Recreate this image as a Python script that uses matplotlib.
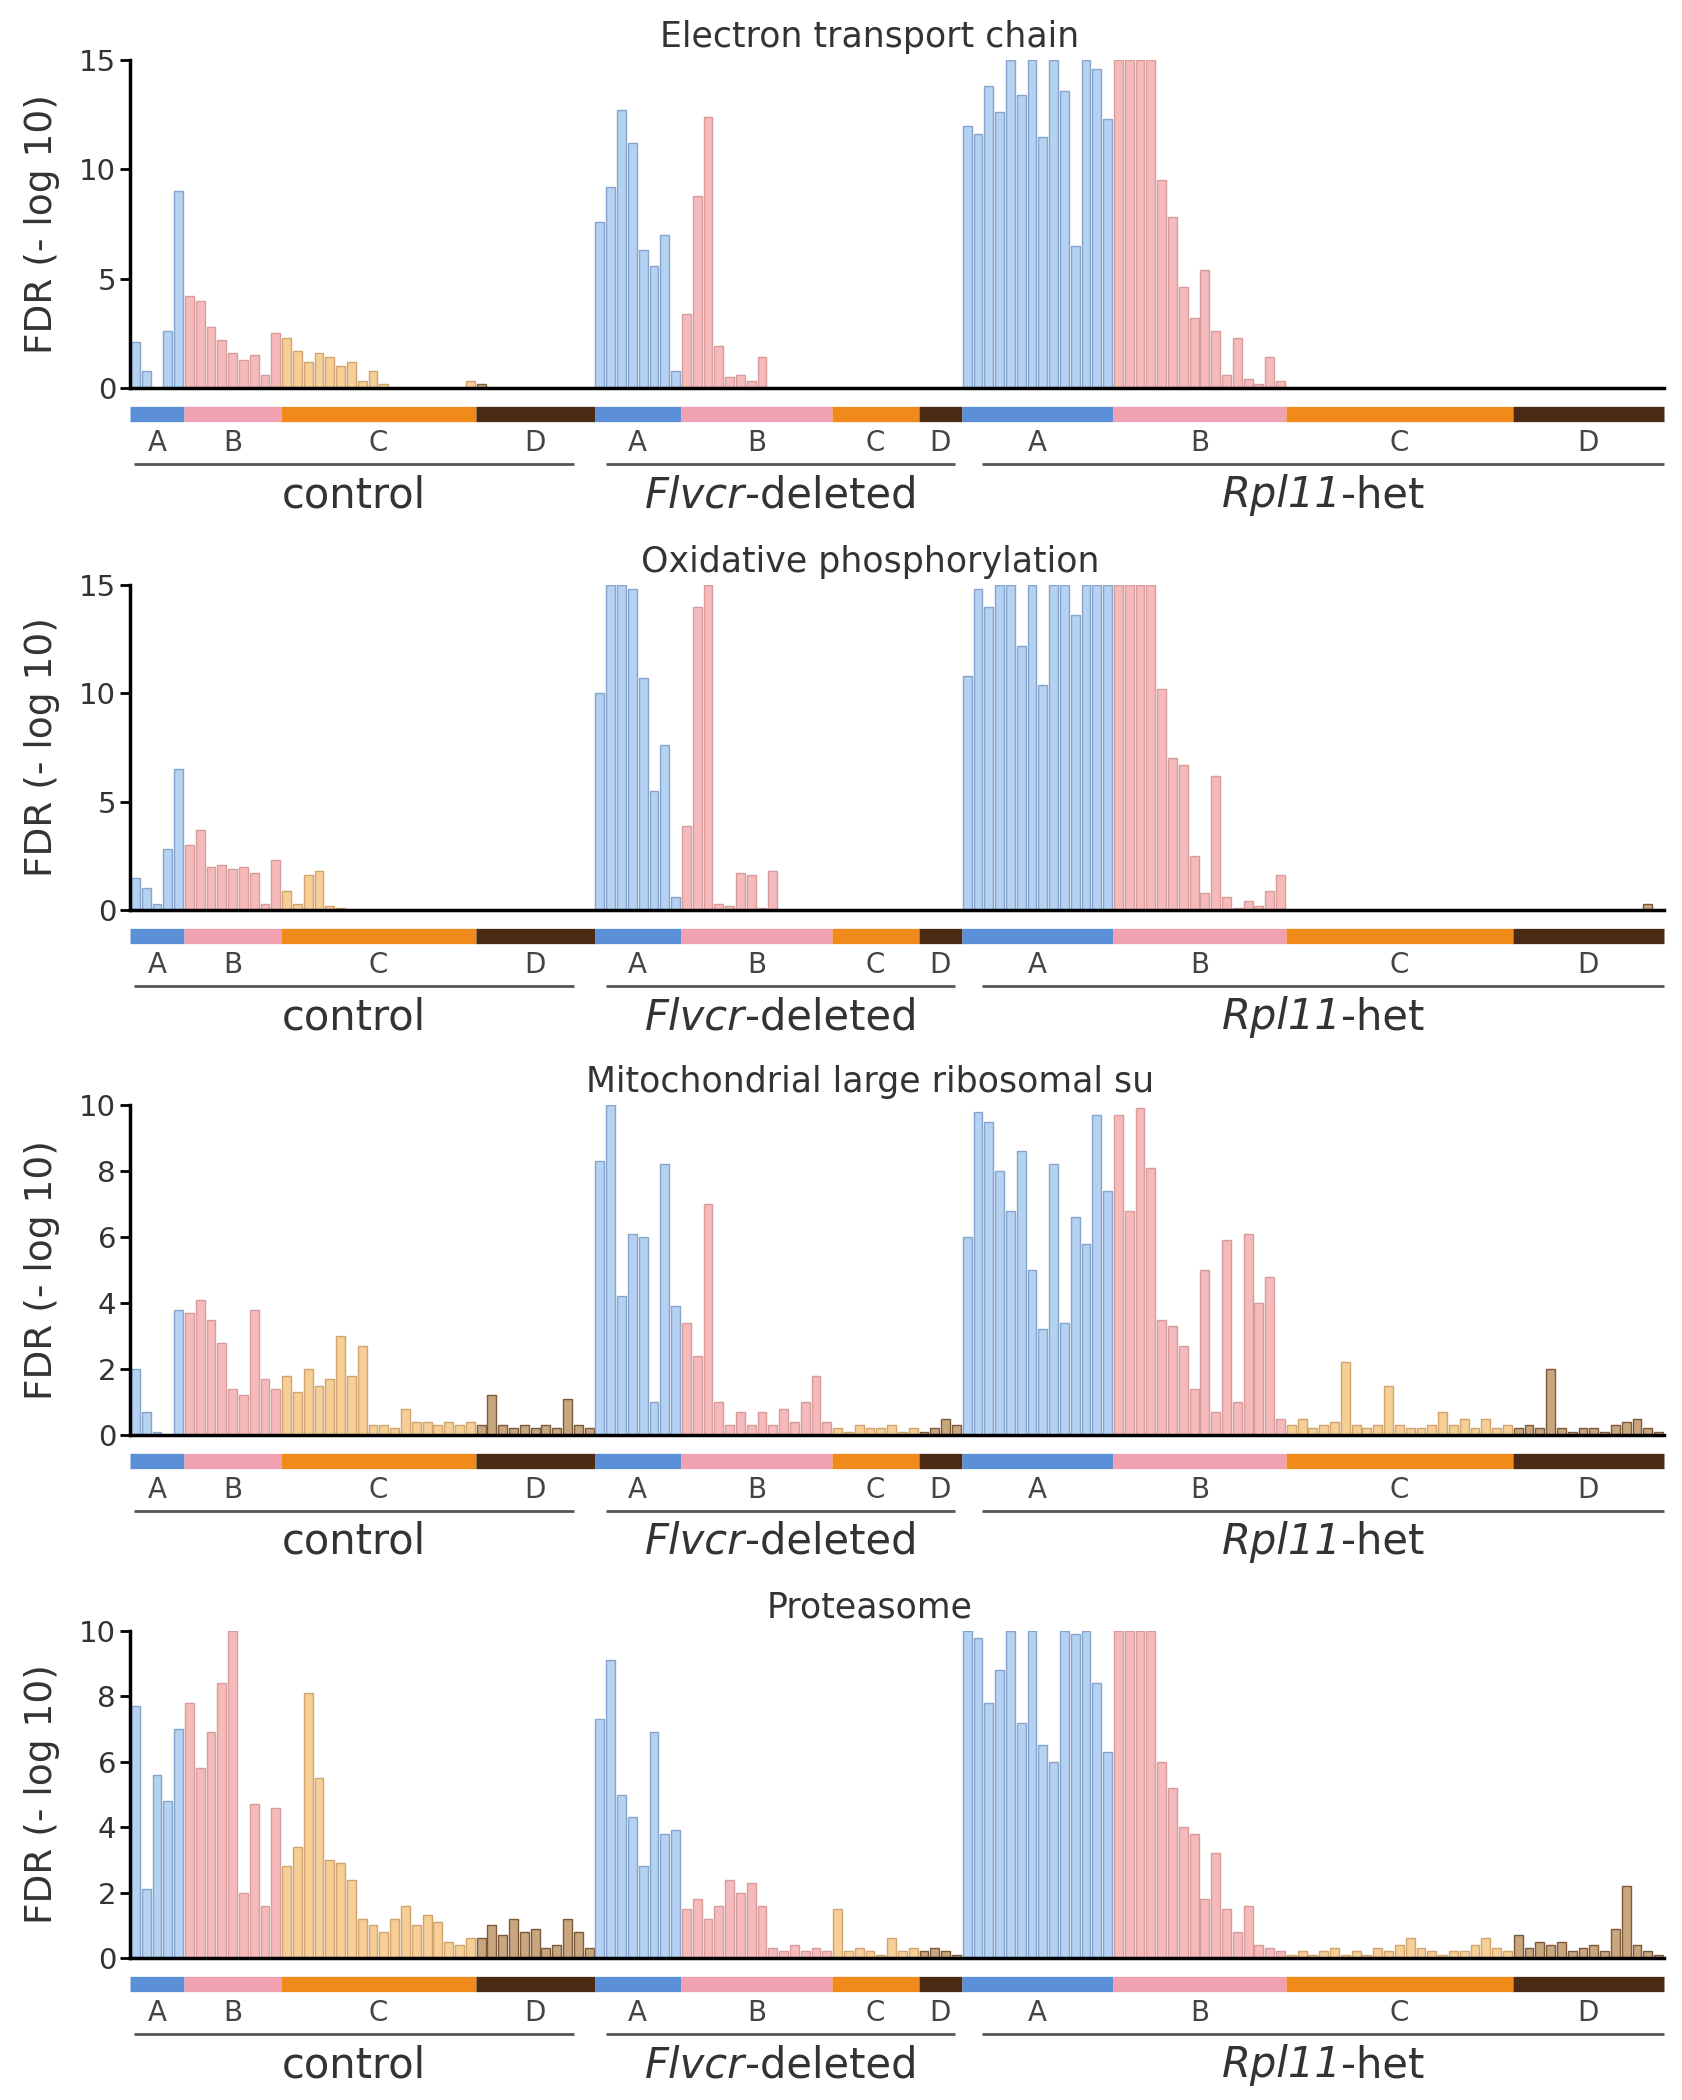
import numpy as np
import matplotlib
matplotlib.use('Agg')
import matplotlib.pyplot as plt
from matplotlib.transforms import blended_transform_factory, offset_copy

# samples per cluster (A, B, C, D) in each condition
conditions = [[('control', 'normal')],
              [('Flvcr', 'italic'), ('-deleted', 'normal')],
              [('Rpl11', 'italic'), ('-het', 'normal')]]
clusters = ['A', 'B', 'C', 'D']
sizes_control = [5, 9, 18, 11]
sizes_flvcr = [8, 14, 8, 4]
sizes_rpl11 = [14, 16, 21, 14]

titles = ['Electron transport chain', 'Oxidative phosphorylation',
          'Mitochondrial large ribosomal su', 'Proteasome']
ymax_list = [15, 15, 10, 10]

# FDR (-log10) per sample
etc_control = [2.1, 0.8, 0.0, 2.6, 9.0,
               4.2, 4.0, 2.8, 2.2, 1.6, 1.3, 1.5, 0.6, 2.5,
               2.3, 1.7, 1.2, 1.6, 1.4, 1.0, 1.2, 0.3, 0.8, 0.2, 0.0, 0.0, 0.0, 0.0, 0.0, 0.0, 0.0, 0.3,
               0.2, 0.0, 0.0, 0.0, 0.0, 0.0, 0.0, 0.0, 0.0, 0.0, 0.0]
etc_flvcr = [7.6, 9.2, 12.7, 11.2, 6.3, 5.6, 7.0, 0.8,
             3.4, 8.8, 12.4, 1.9, 0.5, 0.6, 0.3, 1.4, 0.0, 0.0, 0.0, 0.0, 0.0, 0.0,
             0.0, 0.0, 0.0, 0.0, 0.0, 0.0, 0.0, 0.0,
             0.0, 0.0, 0.0, 0.0]
etc_rpl11 = [12.0, 11.6, 13.8, 12.6, 15.0, 13.4, 15.0, 11.5, 15.0, 13.6, 6.5, 15.0, 14.6, 12.3,
             15.0, 15.0, 15.0, 15.0, 9.5, 7.8, 4.6, 3.2, 5.4, 2.6, 0.6, 2.3, 0.4, 0.2, 1.4, 0.3,
             0.0, 0.0, 0.0, 0.0, 0.0, 0.0, 0.0, 0.0, 0.0, 0.0, 0.0, 0.0, 0.0, 0.0, 0.0, 0.0, 0.0, 0.0, 0.0, 0.0, 0.0,
             0.0, 0.0, 0.0, 0.0, 0.0, 0.0, 0.0, 0.0, 0.0, 0.0, 0.0, 0.0, 0.0, 0.0]

oxphos_control = [1.5, 1.0, 0.3, 2.8, 6.5,
                  3.0, 3.7, 2.0, 2.1, 1.9, 2.0, 1.7, 0.3, 2.3,
                  0.9, 0.3, 1.6, 1.8, 0.2, 0.1, 0.0, 0.0, 0.0, 0.0, 0.0, 0.0, 0.0, 0.0, 0.0, 0.0, 0.0, 0.0,
                  0.0, 0.0, 0.0, 0.0, 0.0, 0.0, 0.0, 0.0, 0.0, 0.0, 0.0]
oxphos_flvcr = [10.0, 15.0, 15.0, 14.8, 10.7, 5.5, 7.6, 0.6,
                3.9, 14.0, 15.0, 0.3, 0.2, 1.7, 1.6, 0.1, 1.8, 0.0, 0.0, 0.0, 0.0, 0.0,
                0.0, 0.0, 0.0, 0.0, 0.0, 0.0, 0.0, 0.0,
                0.0, 0.0, 0.0, 0.0]
oxphos_rpl11 = [10.8, 14.8, 14.0, 15.0, 15.0, 12.2, 15.0, 10.4, 15.0, 15.0, 13.6, 15.0, 15.0, 15.0,
                15.0, 15.0, 15.0, 15.0, 10.2, 7.0, 6.7, 2.5, 0.8, 6.2, 0.6, 0.1, 0.4, 0.2, 0.9, 1.6,
                0.0, 0.0, 0.0, 0.0, 0.0, 0.0, 0.0, 0.0, 0.0, 0.0, 0.0, 0.0, 0.0, 0.0, 0.0, 0.0, 0.0, 0.0, 0.0, 0.0, 0.0,
                0.0, 0.0, 0.0, 0.0, 0.0, 0.0, 0.0, 0.0, 0.0, 0.0, 0.0, 0.0, 0.3, 0.0]

mitoribo_control = [2.0, 0.7, 0.1, 0.0, 3.8,
                    3.7, 4.1, 3.5, 2.8, 1.4, 1.2, 3.8, 1.7, 1.4,
                    1.8, 1.3, 2.0, 1.5, 1.7, 3.0, 1.8, 2.7, 0.3, 0.3, 0.2, 0.8, 0.4, 0.4, 0.3, 0.4, 0.3, 0.4,
                    0.3, 1.2, 0.3, 0.2, 0.3, 0.2, 0.3, 0.2, 1.1, 0.3, 0.2]
mitoribo_flvcr = [8.3, 10.0, 4.2, 6.1, 6.0, 1.0, 8.2, 3.9,
                  3.4, 2.4, 7.0, 1.0, 0.3, 0.7, 0.3, 0.7, 0.3, 0.8, 0.4, 1.0, 1.8, 0.4,
                  0.2, 0.1, 0.3, 0.2, 0.2, 0.3, 0.1, 0.2,
                  0.1, 0.2, 0.5, 0.3]
mitoribo_rpl11 = [6.0, 9.8, 9.5, 8.0, 6.8, 8.6, 5.0, 3.2, 8.2, 3.4, 6.6, 5.8, 9.7, 7.4,
                  9.7, 6.8, 9.9, 8.1, 3.5, 3.3, 2.7, 1.4, 5.0, 0.7, 5.9, 1.0, 6.1, 4.0, 4.8, 0.5,
                  0.3, 0.5, 0.2, 0.3, 0.4, 2.2, 0.3, 0.2, 0.3, 1.5, 0.3, 0.2, 0.2, 0.3, 0.7, 0.3, 0.5, 0.2, 0.5, 0.2, 0.3,
                  0.2, 0.3, 0.2, 2.0, 0.2, 0.1, 0.2, 0.2, 0.1, 0.3, 0.4, 0.5, 0.2, 0.1]

proteasome_control = [7.7, 2.1, 5.6, 4.8, 7.0,
                      7.8, 5.8, 6.9, 8.4, 10.0, 2.0, 4.7, 1.6, 4.6,
                      2.8, 3.4, 8.1, 5.5, 3.0, 2.9, 2.4, 1.2, 1.0, 0.8, 1.2, 1.6, 1.0, 1.3, 1.1, 0.5, 0.4, 0.6,
                      0.6, 1.0, 0.7, 1.2, 0.8, 0.9, 0.3, 0.4, 1.2, 0.8, 0.3]
proteasome_flvcr = [7.3, 9.1, 5.0, 4.3, 2.8, 6.9, 3.8, 3.9,
                    1.5, 1.8, 1.2, 1.6, 2.4, 2.0, 2.3, 1.6, 0.3, 0.2, 0.4, 0.2, 0.3, 0.2,
                    1.5, 0.2, 0.3, 0.2, 0.1, 0.6, 0.2, 0.3,
                    0.2, 0.3, 0.2, 0.1]
proteasome_rpl11 = [10.0, 9.8, 7.8, 8.8, 10.0, 7.2, 10.0, 6.5, 6.0, 10.0, 9.9, 10.0, 8.4, 6.3,
                    10.0, 10.0, 10.0, 10.0, 6.0, 5.2, 4.0, 3.8, 1.8, 3.2, 1.5, 0.8, 1.6, 0.4, 0.3, 0.2,
                    0.1, 0.2, 0.1, 0.2, 0.3, 0.1, 0.2, 0.1, 0.3, 0.2, 0.4, 0.6, 0.3, 0.2, 0.1, 0.2, 0.2, 0.4, 0.6, 0.3, 0.2,
                    0.7, 0.3, 0.5, 0.4, 0.5, 0.2, 0.3, 0.4, 0.2, 0.9, 2.2, 0.4, 0.2, 0.1]

panels = [
    (etc_control, etc_flvcr, etc_rpl11),
    (oxphos_control, oxphos_flvcr, oxphos_rpl11),
    (mitoribo_control, mitoribo_flvcr, mitoribo_rpl11),
    (proteasome_control, proteasome_flvcr, proteasome_rpl11),
]
all_sizes = [sizes_control, sizes_flvcr, sizes_rpl11]

# colours per cluster
bar_fill = ['#b5d2f2', '#f6baba', '#f7cf96', '#caa67e']
bar_edge = ['#86a4cc', '#d69c9c', '#d0a46e', '#7a5a3a']
strip_col = ['#5b90d8', '#f0a2b2', '#f08a1a', '#4a2a12']

# layout in figure pixels
W, H = 1683, 2100
left_px, right_px = 130, 1664
axes_rows = [(60, 388), (585, 910), (1105, 1435), (1631, 1958)]  # (top, zero line)
title_y = [37, 562, 1082, 1607]
underline_inset = [(0.4, 1.9), (1.1, 0.6), (1.9, 0.0)]

fig = plt.figure(figsize=(W / 100, H / 100), dpi=100)
renderer = fig.canvas.get_renderer()


def mixed_label(ax, xc, trans, parts, size):
    # centre a label built from italic / upright pieces
    texts = [ax.text(xc, 0, s, transform=trans, ha='left', va='center', fontsize=size,
                     style=st, color='#333333') for s, st in parts]
    widths = [t.get_window_extent(renderer).width for t in texts]
    off = -sum(widths) / 2
    for t, w in zip(texts, widths):
        t.set_transform(offset_copy(trans, fig=fig, x=off, units='dots'))
        off += w


for p, (vals3, ymax) in enumerate(zip(panels, ymax_list)):
    top, zero = axes_rows[p]
    ax = fig.add_axes([left_px / W, 1 - zero / H, (right_px - left_px) / W, (zero - top) / H])

    values = []
    cats = []
    for vals, sizes in zip(vals3, all_sizes):
        values += vals
        for k, n in enumerate(sizes):
            cats += [k] * n
    values = np.minimum(np.array(values), ymax)
    n_tot = len(values)
    x = np.arange(n_tot)
    ax.bar(x, values, width=0.82,
           color=[bar_fill[c] for c in cats],
           edgecolor=[bar_edge[c] for c in cats], linewidth=1.0)

    ax.set_xlim(-0.5, n_tot - 0.5)
    ax.set_ylim(0, ymax)
    ax.set_xticks([])
    ax.set_yticks(np.arange(0, ymax + 1, 5 if ymax == 15 else 2))
    ax.tick_params(axis='y', length=7, width=2, labelsize=21, labelcolor='#333333', pad=3)
    for s in ['top', 'right']:
        ax.spines[s].set_visible(False)
    ax.spines['left'].set_linewidth(2.5)
    ax.spines['bottom'].set_linewidth(2.5)

    blend = blended_transform_factory(ax.transData, ax.transAxes)
    t_strip = offset_copy(blend, fig=fig, y=-26, units='dots')
    t_letter = offset_copy(blend, fig=fig, y=-55, units='dots')
    t_line = offset_copy(blend, fig=fig, y=-76, units='dots')
    t_group = offset_copy(blend, fig=fig, y=-107, units='dots')

    start = 0
    for ci, sizes in enumerate(all_sizes):
        cstart = start
        for k, n in enumerate(sizes):
            x0, x1 = start - 0.5, start + n - 0.5
            ax.plot([x0, x1], [0, 0], color=strip_col[k], lw=11, solid_capstyle='butt',
                    transform=t_strip, clip_on=False)
            ax.text((x0 + x1) / 2, 0, clusters[k], transform=t_letter, ha='center', va='center',
                    fontsize=20, color='#444444')
            start += n
        a, b = underline_inset[ci]
        u0, u1 = cstart - 0.5 + a, start - 0.5 - b
        ax.plot([u0, u1], [0, 0], color='#555555', lw=2,
                transform=t_line, clip_on=False, solid_capstyle='butt')
        mixed_label(ax, (u0 + u1) / 2, t_group, conditions[ci], 30)

    fig.text(42 / W, 1 - (top + zero) / 2 / H, 'FDR (- log 10)', rotation=90,
             ha='center', va='center', fontsize=27, color='#333333')
    fig.text(870 / W, 1 - title_y[p] / H, titles[p], ha='center', va='center',
             fontsize=25, color='#333333')

fig.savefig('out.png', dpi=100, facecolor='white')
